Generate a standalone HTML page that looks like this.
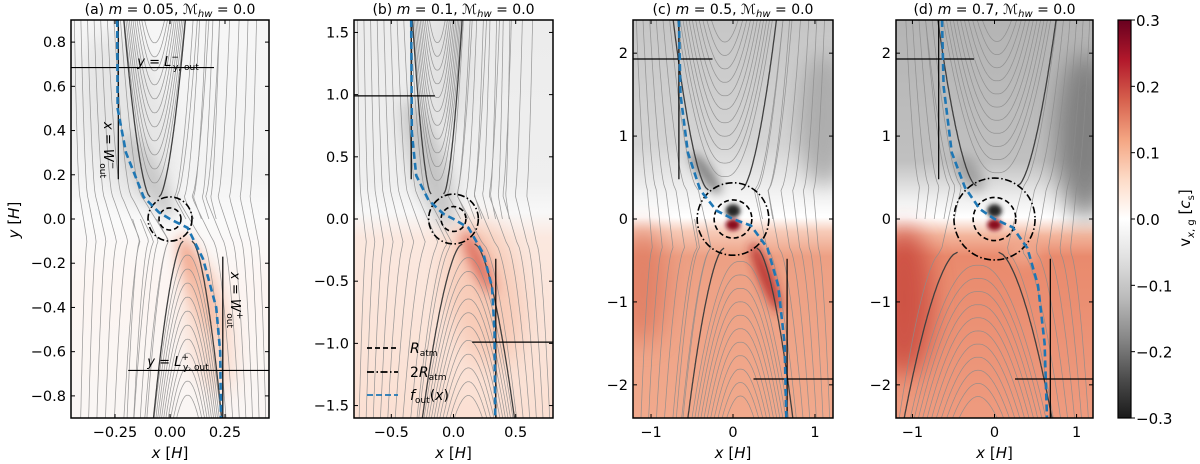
<!DOCTYPE html>
<html><head><meta charset="utf-8">
<style>
html,body{margin:0;padding:0;background:#fff;}
svg{display:block;font-family:"DejaVu Sans","Liberation Sans",sans-serif;}
</style></head>
<body>
<svg id="fig" width="1200" height="464" viewBox="0 0 1200 464"></svg>
<script>
// ---- data arrays ----
const panelIds = ['a','b','c','d'];
const massValues = ['0.05','0.1','0.5','0.7'];
const machValues = ['0.0','0.0','0.0','0.0'];
const xTicksA = [-0.25,0,0.25];
const xTickLabelsA = ['−0.25','0.00','0.25'];
const yTicksA = [-0.8,-0.6,-0.4,-0.2,0,0.2,0.4,0.6,0.8];
const yTickLabelsA = ['−0.8','−0.6','−0.4','−0.2','0.0','0.2','0.4','0.6','0.8'];
const xTicksB = [-0.5,0,0.5];
const xTickLabelsB = ['−0.5','0.0','0.5'];
const yTicksB = [-1.5,-1,-0.5,0,0.5,1,1.5];
const yTickLabelsB = ['−1.5','−1.0','−0.5','0.0','0.5','1.0','1.5'];
const xTicksCD = [-1,0,1];
const xTickLabelsCD = ['−1','0','1'];
const yTicksCD = [-2,-1,0,1,2];
const yTickLabelsCD = ['−2','−1','0','1','2'];
const foutA = [[-0.24,0.9],[-0.238,0.5],[-0.2,0.3],[-0.12,0.1],[-0.05,0.03],[0,0],[0.08,-0.04],[0.15,-0.18],[0.21,-0.4],[0.228,-0.6],[0.232,-0.9]];
const foutB = [[-0.34,1.6],[-0.335,0.7],[-0.3,0.35],[-0.2,0.15],[-0.08,0.04],[0,0],[0.12,-0.07],[0.24,-0.28],[0.31,-0.55],[0.33,-0.9],[0.335,-1.6]];
const foutC = [[-0.66,2.4],[-0.64,1.5],[-0.55,0.8],[-0.4,0.35],[-0.2,0.1],[0,0],[0.22,-0.08],[0.42,-0.35],[0.55,-0.8],[0.63,-1.5],[0.65,-2.4]];
const foutD = [[-0.64,2.4],[-0.62,1.6],[-0.52,0.8],[-0.36,0.38],[-0.18,0.12],[0,0],[0.22,-0.1],[0.4,-0.35],[0.53,-0.8],[0.61,-1.5],[0.64,-2.4]];
const boundsA = [[-0.235,0.9,-0.235,0.18],[-0.45,0.685,0.2,0.685],[0.24,-0.17,0.24,-0.9],[-0.19,-0.685,0.45,-0.685]];
const boundsB = [[-0.34,1.6,-0.34,0.32],[-0.8,0.99,-0.15,0.99],[0.34,-0.32,0.34,-1.6],[0.15,-0.99,0.8,-0.99]];
const boundsC = [[-0.66,2.4,-0.66,0.48],[-1.22,1.93,-0.25,1.93],[0.66,-0.48,0.66,-2.4],[0.25,-1.93,1.22,-1.93]];
const boundsD = [[-0.68,2.4,-0.68,0.48],[-1.2,1.93,-0.25,1.93],[0.68,-0.48,0.68,-2.4],[0.25,-1.93,1.2,-1.93]];
const rAtm = [0.05,0.1,0.23,0.26];
const cbTicks = [0.3,0.2,0.1,0,-0.1,-0.2,-0.3];
const cbTickLabels = ['0.3','0.2','0.1','0.0','−0.1','−0.2','−0.3'];

// ---- layout / style ----
const T=20,B=418;
const P=[
 {L:71,R:269,xr:0.45,yr:0.9,xt:xTicksA,xtl:xTickLabelsA,yt:yTicksA,ytl:yTickLabelsA,fout:foutA,bounds:boundsA,
  cu:-0.07,Wu:0.14,cl:0.08,Wl:0.155,yn:0.1,wn:0.02,
  grad:[[0.9,'#f6f6f6'],[0.2,'#f3f3f3'],[0,'#fafafa'],[-0.3,'#fcf5f2'],[-0.9,'#faf6f4']],
  blobs:[[-0.2,0.45,0.2,0.4,-15,'#e2e2e2',0.8,10],[-0.1,0.2,0.06,0.22,-30,'#c4c4c4',0.85,7],[0.13,-0.3,0.05,0.24,-20,'#f09a7c',0.9,7],[0.18,-0.5,0.1,0.3,-10,'#f8cdb9',0.7,10]]},
 {L:354,R:553,xr:0.8,yr:1.6,xt:xTicksB,xtl:xTickLabelsB,yt:yTicksB,ytl:yTickLabelsB,fout:foutB,bounds:boundsB,
  cu:-0.13,Wu:0.2,cl:0.12,Wl:0.37,yn:0.2,wn:0.05,
  grad:[[1.6,'#ececec'],[0.3,'#efefef'],[0.05,'#f8f8f8'],[-0.15,'#fbe8df'],[-1.6,'#fbe0d3']],
  blobs:[[-0.2,0.45,0.14,0.55,-18,'#bebebe',0.85,8],[-0.05,1.2,0.2,0.5,0,'#dcdcdc',0.7,10],[0.25,-0.6,0.3,0.6,-10,'#f6c0a8',0.7,12],[0.2,-0.35,0.06,0.28,-25,'#d85a48',0.85,6]]},
 {L:633,R:833,xr:1.22,yr:2.4,xt:xTicksCD,xtl:xTickLabelsCD,yt:yTicksCD,ytl:yTickLabelsCD,fout:foutC,bounds:boundsC,
  cu:-0.1,Wu:0.63,cl:0.09,Wl:0.64,yn:0.35,wn:0.2,
  grad:[[2.4,'#c6c6c6'],[0.9,'#d4d4d4'],[0.3,'#f2f2f2'],[0.02,'#ffffff'],[-0.15,'#f7cbb8'],[-0.45,'#eda084'],[-2.4,'#f1a98c']],
  blobs:[[1.1,1.2,0.3,0.8,0,'#a4a4a4',0.8,10],[-0.33,0.55,0.08,0.3,-35,'#6e6e6e',0.85,5],[-1.1,-0.8,0.3,0.7,0,'#df7a60',0.8,12],[0.4,-0.7,0.08,0.45,-22,'#b42828',0.9,5]],
  spots:true},
 {L:896,R:1093,xr:1.2,yr:2.4,xt:xTicksCD,xtl:xTickLabelsCD,yt:yTicksCD,ytl:yTickLabelsCD,fout:foutD,bounds:boundsD,
  cu:0.03,Wu:0.72,cl:-0.2,Wl:0.9,yn:0.4,wn:0.25,
  grad:[[2.4,'#b4b4b4'],[0.7,'#c0c0c0'],[0.25,'#eeeeee'],[0.02,'#ffffff'],[-0.2,'#f3b59c'],[-0.45,'#e98a6d'],[-2.4,'#ee9b7f']],
  blobs:[[1.1,1.0,0.35,1.0,0,'#767676',0.85,12],[-1.1,-1.0,0.35,0.9,0,'#c94a3e',0.85,12],[-0.3,0.55,0.12,0.25,-35,'#8a8a8a',0.7,6],[0.35,-0.4,0.2,0.15,0,'#f0aa90',0.8,6]],
  spots:true}
];

const NS='http://www.w3.org/2000/svg';
const svg=document.getElementById('fig');
function mk(tag,attrs,parent){const e=document.createElementNS(NS,tag);for(const k in attrs)e.setAttribute(k,attrs[k]);(parent||svg).appendChild(e);return e;}
const defs=mk('defs',{});
[2,5,6,7,8,10,12].forEach(s=>{const f=mk('filter',{id:'blur'+s,x:'-100%',y:'-100%',width:'300%',height:'300%'},defs);mk('feGaussianBlur',{stdDeviation:s},f);});

P.forEach((p,i)=>{
  const sx=x=>p.L+(x+p.xr)/(2*p.xr)*(p.R-p.L);
  const sy=y=>T+(p.yr-y)/(2*p.yr)*(B-T);
  const kx=(p.R-p.L)/(2*p.xr), ky=(B-T)/(2*p.yr);
  const g=mk('g',{});
  
  
  const cp=mk('clipPath',{id:'clip'+i},defs);
  mk('rect',{x:p.L,y:T,width:p.R-p.L,height:B-T},cp);
  const inner=mk('g',{'clip-path':'url(#clip'+i+')'},g);
  const lg=mk('linearGradient',{id:'bg'+i,gradientUnits:'userSpaceOnUse',x1:0,x2:0,y1:T,y2:B},defs);
  p.grad.forEach(s=>mk('stop',{offset:(p.yr-s[0])/(2*p.yr),'stop-color':s[1]},lg));
  const bg=mk('rect',{x:p.L,y:T,width:p.R-p.L,height:B-T,fill:'url(#bg'+i+')'},inner);
  
  
  p.blobs.forEach(b=>{
    const e=mk('ellipse',{cx:sx(b[0]),cy:sy(b[1]),rx:b[2]*kx,ry:b[3]*ky,fill:b[5],opacity:b[6],filter:'url(#blur'+b[7]+')',transform:'rotate('+b[4]+' '+sx(b[0])+' '+sy(b[1])+')'},inner);
    
    
  });
  if(p.spots){
    const s1=mk('ellipse',{cx:sx(0),cy:sy(0.1),rx:0.09*kx,ry:0.08*ky,fill:'#262626',filter:'url(#blur2)'},inner);
    
    
    const s2=mk('ellipse',{cx:sx(0),cy:sy(-0.07),rx:0.09*kx,ry:0.07*ky,fill:'#8a0a1e',filter:'url(#blur2)'},inner);
    
    
  }
  const Y=p.yr;
  const EX=0.6;
  const K_u=(p.Wu-p.wn)/Math.pow(Y-p.yn,EX), K_l=(p.Wl-p.wn)/Math.pow(Y-p.yn,EX);
  const hwu=y=>p.wn+K_u*Math.pow(Math.max(0,y-p.yn),EX);
  const hwl=y=>p.wn+K_l*Math.pow(Math.max(0,-y-p.yn),EX);
  const bL=y=>{ if(y>=p.yn) return p.cu-hwu(y); if(y<=-p.yn) return p.cl-hwl(y); const t=(y+p.yn)/(2*p.yn); return (p.cl-p.wn)*(1-t)+(p.cu-p.wn)*t;};
  const bR=y=>{ if(y>=p.yn) return p.cu+hwu(y); if(y<=-p.yn) return p.cl+hwl(y); const t=(y+p.yn)/(2*p.yn); return (p.cl+p.wn)*(1-t)+(p.cu+p.wn)*t;};
  const sl=mk('g',{fill:'none',stroke:'#8c8c8c','stroke-width':0.75,opacity:0.85},inner);
  
  
  const N=70;
  function path(fn,y0,y1){let d='';for(let k=0;k<=N;k++){const y=y0+(y1-y0)*k/N;const x=fn(y);d+=(k?'L':'M')+sx(x).toFixed(1)+' '+sy(y).toFixed(1);}return d;}
  const dx=2*p.xr/30;
  const upLt=p.cu-p.Wu, lowLb=p.cl-p.Wl, upRt=p.cu+p.Wu, lowRb=p.cl+p.Wl;
  for(let x0=-p.xr+dx/2;x0<p.xr;x0+=dx){
    if(x0<Math.max(upLt,lowLb)-0.01){
      let ref,y0,y1;
      if(x0<upLt&&x0<lowLb){ref=Math.min(upLt,lowLb);y0=-Y;y1=Y;}
      else if(x0<lowLb){ref=lowLb;y0=-Y;y1=0;}else{ref=upLt;y0=0;y1=Y;}
      const w=0.9*Math.exp(-(ref-x0)/(0.35*p.xr));
      mk('path',{d:path(y=>x0+w*(bL(y)-ref),y0,y1)},sl);
    }
    if(x0>Math.min(upRt,lowRb)+0.01){
      let ref,y0,y1;
      if(x0>upRt&&x0>lowRb){ref=Math.max(upRt,lowRb);y0=-Y;y1=Y;}
      else if(x0>lowRb){ref=lowRb;y0=-Y;y1=0;}else{ref=upRt;y0=0;y1=Y;}
      const w=0.9*Math.exp(-(x0-ref)/(0.35*p.xr));
      mk('path',{d:path(y=>x0+w*(bR(y)-ref),y0,y1)},sl);
    }
  }
  // nested horseshoe curves: rounded U shapes with apex width
  const nU=11;
  for(let k=1;k<=nU;k++){
    const f=k/(nU+1);            // fraction of way from separatrix inward
    const ya=p.yn+(Y-p.yn)*f*0.95;
    const w0=p.wn*(1-f)*0.8;
    let d='';
    for(let j=-N;j<=N;j++){const t=Math.abs(j)/N;const y=ya+(Y-ya)*t*t;const x=p.cu+Math.sign(j)*(w0*Math.sqrt(t)+K_u*Math.pow(y-ya,EX)+ (j===0?0:0.02*p.xr*Math.sqrt(t)));d+=(d?'L':'M')+sx(x).toFixed(1)+' '+sy(y).toFixed(1);}
    mk('path',{d:d},sl);
    const yb=-ya; let d2='';
    for(let j=-N;j<=N;j++){const t=Math.abs(j)/N;const y=yb-(Y+yb)*t*t;const x=p.cl+Math.sign(j)*(w0*Math.sqrt(t)+K_l*Math.pow(-y+yb,EX)+0.02*p.xr*Math.sqrt(t));d2+=(d2?'L':'M')+sx(x).toFixed(1)+' '+sy(y).toFixed(1);}
    mk('path',{d:d2},sl);
  }
  const sep=mk('g',{fill:'none',stroke:'#404040','stroke-width':1.3},inner);
  
  
  mk('path',{d:path(y=>p.cu-hwu(y),p.yn,Y)},sep);
  mk('path',{d:path(y=>p.cu+hwu(y),p.yn,Y)},sep);
  mk('path',{d:path(y=>p.cl-hwl(y),-Y,-p.yn)},sep);
  mk('path',{d:path(y=>p.cl+hwl(y),-Y,-p.yn)},sep);
  const r=rAtm[i];
  const c1=mk('ellipse',{cx:sx(0),cy:sy(0),rx:r*kx,ry:r*ky,fill:'none',stroke:'#000','stroke-width':1.6,'stroke-dasharray':'5,3'},inner);
  
  
  const c2=mk('ellipse',{cx:sx(0),cy:sy(0),rx:2*r*kx*(i>1?0.95:1),ry:2*r*ky*(i>1?0.95:1),fill:'none',stroke:'#000','stroke-width':1.6,'stroke-dasharray':'7,2.5,1.5,2.5'},inner);
  
  
  p.bounds.forEach(b=>{
    const l=mk('line',{x1:sx(b[0]),y1:sy(b[1]),x2:sx(b[2]),y2:sy(b[3]),stroke:'#000','stroke-width':1.2},inner);
    
    
  });
  let fd='';
  for(let k=0;k<p.fout.length;k++){const q=p.fout[k];fd+=(k?'L':'M')+sx(q[0]).toFixed(1)+' '+sy(q[1]).toFixed(1);}
  const fo=mk('path',{d:fd,fill:'none',stroke:'#1f77b4','stroke-width':2.6,'stroke-dasharray':'7,4','stroke-linejoin':'round'},inner);
  
  
  const fr=mk('rect',{x:p.L,y:T,width:p.R-p.L,height:B-T,fill:'none',stroke:'#000','stroke-width':1.5},g);
  
  
  p.xt.forEach((v,k)=>{
    const X=sx(v);
    mk('line',{x1:X,y1:B,x2:X,y2:B-4,stroke:'#000','stroke-width':1},g);
    mk('line',{x1:X,y1:T,x2:X,y2:T+4,stroke:'#000','stroke-width':1},g);
    const t=mk('text',{x:X,y:B+19,'font-size':14.5,'text-anchor':'middle'},g);
    t.textContent=p.xtl[k];
    
    
  });
  p.yt.forEach((v,k)=>{
    const Yp=sy(v);
    mk('line',{x1:p.L,y1:Yp,x2:p.L+4,y2:Yp,stroke:'#000','stroke-width':1},g);
    mk('line',{x1:p.R,y1:Yp,x2:p.R-4,y2:Yp,stroke:'#000','stroke-width':1},g);
    const t=mk('text',{x:p.L-5,y:Yp+5,'font-size':14.5,'text-anchor':'end'},g);
    t.textContent=p.ytl[k];
    
    
  });
  const xl=mk('text',{x:(p.L+p.R)/2,y:458,'font-size':15,'text-anchor':'middle'},g);
  xl.innerHTML='<tspan font-style="italic">x</tspan> [<tspan font-style="italic">H</tspan>]';
  
  
  const tt=mk('text',{x:(p.L+p.R)/2,y:14,'font-size':14,'text-anchor':'middle'},g);
  tt.innerHTML='('+panelIds[i]+') <tspan font-style="italic">m</tspan> = '+massValues[i]+',  ℳ<tspan font-size="10" dy="3" font-style="italic">hw</tspan><tspan dy="-3"> = '+machValues[i]+'</tspan>';
  
  
});

const yl=mk('text',{x:19,y:220,'font-size':15,'text-anchor':'middle',transform:'rotate(-90 19 220)'});
yl.innerHTML='<tspan font-style="italic">y</tspan> [<tspan font-style="italic">H</tspan>]';



function ann(x,y,html,rot,name){const t=mk('text',{x:x,y:y,'font-size':13,'text-anchor':'middle',transform:rot?'rotate(90 '+x+' '+y+')':''});t.innerHTML=html;}
ann(168,66,'<tspan font-style="italic">y</tspan> = <tspan font-style="italic">L</tspan><tspan font-size="9" dy="-6">−</tspan><tspan font-size="9" dx="-6" dy="10">y, out</tspan>',false,'label-ly-out-minus');
ann(178,366,'<tspan font-style="italic">y</tspan> = <tspan font-style="italic">L</tspan><tspan font-size="9" dy="-6">+</tspan><tspan font-size="9" dx="-6" dy="10">y, out</tspan>',false,'label-ly-out-plus');
ann(104,150,'<tspan font-style="italic">x</tspan> = <tspan font-style="italic">W</tspan><tspan font-size="9" dy="-6">−</tspan><tspan font-size="9" dx="-6" dy="10">out</tspan>',true,'label-w-out-minus');
ann(231,300,'<tspan font-style="italic">x</tspan> = <tspan font-style="italic">W</tspan><tspan font-size="9" dy="-6">+</tspan><tspan font-size="9" dx="-6" dy="10">out</tspan>',true,'label-w-out-plus');

const lgG=mk('g',{});


const legY=[348,372,395];
const legDash=['5,3','7,2.5,1.5,2.5','6,3'];
const legCol=['#000','#000','#1f77b4'];
const legTxt=['<tspan font-style="italic">R</tspan><tspan font-size="9" dy="3">atm</tspan>','2<tspan font-style="italic">R</tspan><tspan font-size="9" dy="3">atm</tspan>','<tspan font-style="italic">f</tspan><tspan font-size="9" dy="3">out</tspan><tspan dy="-3">(</tspan><tspan font-style="italic">x</tspan>)'];
legY.forEach((y,k)=>{
  const e=mk('g',{},lgG);
  
  
  mk('line',{x1:367,y1:y,x2:398,y2:y,stroke:legCol[k],'stroke-width':1.8,'stroke-dasharray':legDash[k]},e);
  const t=mk('text',{x:410,y:y+5,'font-size':14},e);
  t.innerHTML=legTxt[k];
});

const cbx=1118,cbw=13;
const cg=mk('linearGradient',{id:'cbg',x1:0,y1:0,x2:0,y2:1},defs);
['#67001f','#b2182b','#d6604d','#f4a582','#fddbc7','#ffffff','#e0e0e0','#bababa','#878787','#4d4d4d','#1a1a1a'].forEach((c,k)=>mk('stop',{offset:k/10,'stop-color':c},cg));
const cb=mk('rect',{x:cbx,y:T,width:cbw,height:B-T,fill:'url(#cbg)',stroke:'#000','stroke-width':1.2});


cbTicks.forEach((v,k)=>{
  const y=T+(0.3-v)/0.6*(B-T);
  mk('line',{x1:cbx+cbw,y1:y,x2:cbx+cbw+4,y2:y,stroke:'#000','stroke-width':1});
  const t=mk('text',{x:cbx+cbw+5,y:y+6,'font-size':15});
  t.textContent=cbTickLabels[k];
  
  
});
const cl=mk('text',{x:1190,y:218,'font-size':15,'text-anchor':'middle',transform:'rotate(-90 1190 218)'});
cl.innerHTML='v<tspan font-size="10" dy="4" font-style="italic">x</tspan><tspan font-size="10">, g</tspan><tspan dy="-4"> [</tspan><tspan font-style="italic">c</tspan><tspan font-size="10" dy="4">s</tspan><tspan dy="-4">]</tspan>';


</script>
</body></html>
